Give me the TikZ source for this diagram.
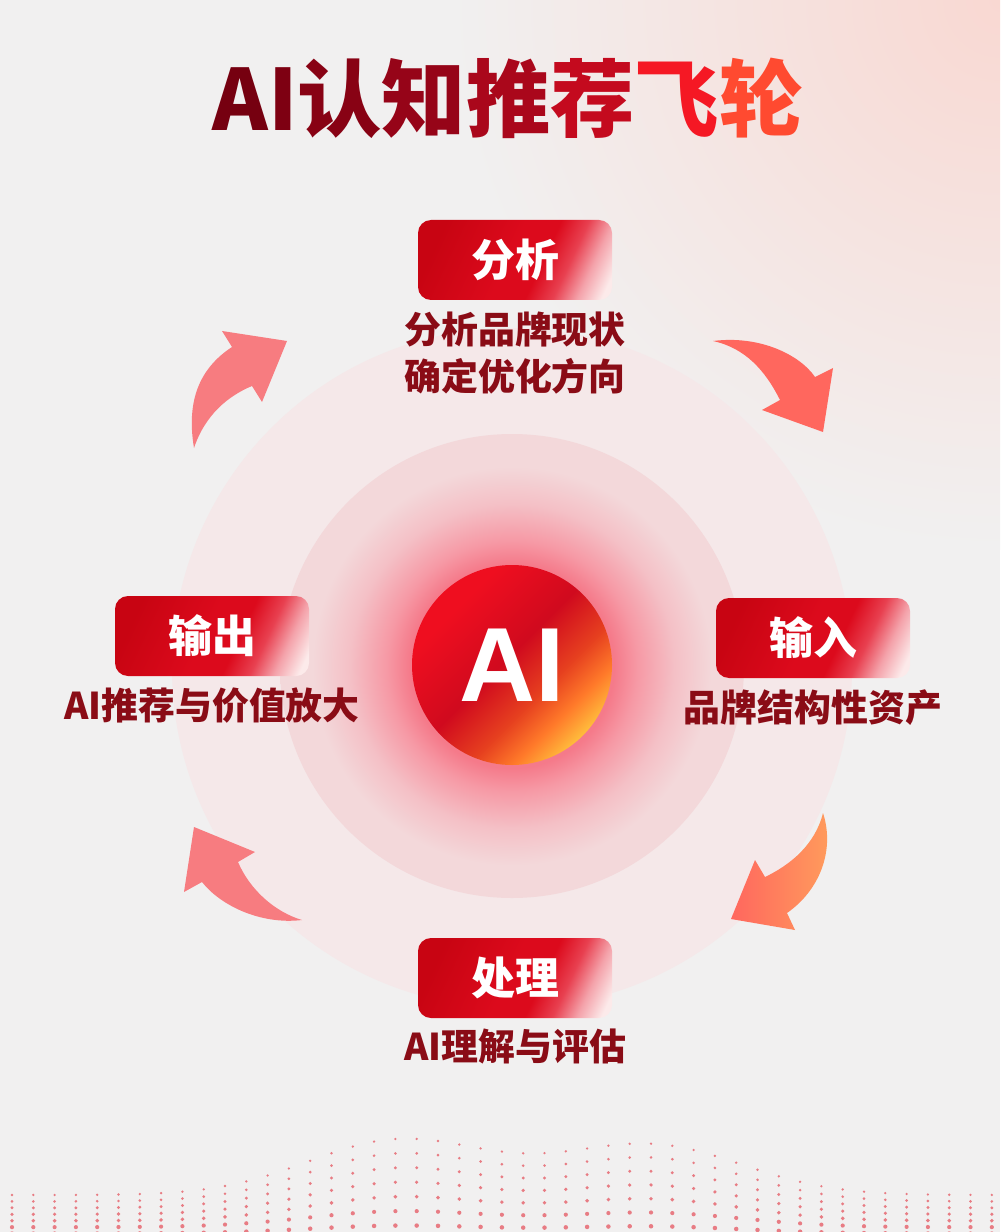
\documentclass[tikz,border=0pt]{standalone}
\usepackage{fontspec}
\setmainfont{Noto Sans CJK SC}
\newfontfamily\heavy{Noto Sans CJK SC Black}
\newfontfamily\latinbold{Liberation Sans}

\definecolor{bggray}{HTML}{F1F0F0}
\definecolor{bgpink}{HTML}{F9D8D2}
\definecolor{ringout}{HTML}{F5E8E9}
\definecolor{ringin}{HTML}{F3D8DA}
\definecolor{glowred}{HTML}{F57A8A}
\definecolor{glowmid}{HTML}{F699A5}
\definecolor{glowsoft}{HTML}{F4C0C6}
\definecolor{boxred}{HTML}{C80412}
\definecolor{boxredb}{HTML}{DC0A1C}
\definecolor{boxwarm}{HTML}{E84050}
\definecolor{boxmid}{HTML}{F4A2AA}
\definecolor{boxwhite}{HTML}{FCEAEA}
\definecolor{textred}{HTML}{8A0C16}
\definecolor{arrowpink}{HTML}{F77C80}
\definecolor{arrowred}{HTML}{FF675E}
\definecolor{arroworange}{HTML}{FF9E5C}
\definecolor{dotred}{HTML}{E2303C}
\definecolor{hubred}{HTML}{EF0E1F}
\definecolor{hubdark}{HTML}{D00A1E}
\definecolor{hubmid}{HTML}{E6401F}
\definecolor{huborange}{HTML}{FF7A2A}
\definecolor{hubyellow}{HTML}{FFBC3C}
\definecolor{titlea}{HTML}{760010}
\definecolor{titleb}{HTML}{7E0012}
\definecolor{titlec}{HTML}{880214}
\definecolor{titled}{HTML}{960418}
\definecolor{titlee}{HTML}{AA071B}
\definecolor{titlef}{HTML}{C40A1E}
\definecolor{titleg}{HTML}{F51824}
\definecolor{titleh}{HTML}{FF4A30}

\pgfdeclarehorizontalshading{boxshade}{100bp}{color(0bp)=(boxred); color(25bp)=(boxred); color(48bp)=(boxredb); color(58bp)=(boxredb); color(66bp)=(boxwarm); color(73bp)=(boxmid); color(80bp)=(boxwhite); color(100bp)=(boxwhite)}
\pgfdeclarehorizontalshading{hubshade}{100bp}{color(0bp)=(hubred); color(30bp)=(hubred); color(48bp)=(hubdark); color(60bp)=(hubmid); color(68bp)=(huborange); color(75bp)=(hubyellow); color(100bp)=(hubyellow)}
\pgfdeclareradialshading{hubglow}{\pgfpoint{0bp}{0bp}}{color(0bp)=(glowred); color(11bp)=(glowred); color(13.5bp)=(glowmid); color(17.5bp)=(glowsoft); color(21.5bp)=(ringin); color(25bp)=(ringin); color(50bp)=(ringin)}

\tikzset{
  stagebox/.style={shade, shading=boxshade, shading angle=-25, rounded corners=1.3mm,
    minimum width=19.4mm, minimum height=8mm, text=white,
    font=\heavy\fontsize{12.5}{15}\selectfont},
  stagenote/.style={text=textred, align=center,
    font=\bfseries\fontsize{10.5}{13.4}\selectfont},
  flowarrow/.style={fill=arrowpink}
}

\begin{document}
\begin{tikzpicture}[x=0.1mm, y=-0.1mm]
    \useasboundingbox (0, 0) rectangle (1000, 1232);
    \fill [bggray] (0, 0) rectangle (1000, 1232);
    \begin{scope}
      \clip (0, 0) rectangle (1000, 1232);
      \shade [inner color=bgpink, outer color=bggray] (1000, 0) circle (55mm);
    \end{scope}

    % dotted wave at the bottom
    \foreach \i in {0,...,46}
    {
      \foreach \r in {1,...,7}
      {
        \pgfmathsetmacro{\xx}{12+\i*21.3}
        \pgfmathsetmacro{\ridge}{1195-55*exp(-((\xx-400)/130)^2)-50*exp(-((\xx-650)/130)^2)}
        \pgfmathsetmacro{\yy}{1240-(1240-\ridge)*\r/7}
        \pgfmathsetmacro{\dotr}{0.13+0.016*(7-\r)}
        \fill [dotred, opacity=0.6] (\xx, \yy) circle (\dotr mm);
      }
    }

    % title
    \node [font=\heavy\fontsize{24}{29}\selectfont] (title) at (508, 98)
      {\textcolor{titlea}{A}\textcolor{titleb}{I}\textcolor{titlec}{认}\textcolor{titled}{知}\textcolor{titlee}{推}\textcolor{titlef}{荐}\textcolor{titleg}{飞}\textcolor{titleh}{轮}};

    % rings and hub
    \fill [ringout] (512, 668) circle (34mm);
    \shade [shading=hubglow] (512, 666) circle (23.2mm);
    \node [circle, minimum size=20mm, shade, shading=hubshade, shading angle=-45,
      text=white, font=\latinbold\bfseries\fontsize{30}{30}\selectfont] (hub) at (512, 665) {AI};

    % stages
    \node [stagebox] (analyse) at (515, 260) {分析};
    \node [stagenote] (analysenote) at (515, 353) {分析品牌现状\\确定优化方向};
    \node [stagebox] (input) at (813, 638) {输入};
    \node [stagenote] (inputnote) at (813, 708) {品牌结构性资产};
    \node [stagebox] (process) at (515, 978) {处理};
    \node [stagenote] (processnote) at (515, 1047) {AI理解与评估};
    \node [stagebox] (output) at (212, 636) {输出};
    \node [stagenote] (outputnote) at (212, 706) {AI推荐与价值放大};

    % flywheel arrows
    \fill [flowarrow] (194, 448) .. controls (186, 400) and (200, 368) .. (232, 347)
      -- (222, 331) -- (287, 341) -- (262, 402) -- (252, 386)
      .. controls (228, 396) and (205, 415) .. cycle;
    \fill [flowarrow, fill=arrowred] (713, 341) .. controls (760, 335) and (800, 355) .. (815, 377)
      -- (833, 368) -- (823, 432) -- (762, 410) -- (780, 400)
      .. controls (765, 370) and (745, 348) .. cycle;
    \shade [left color=arrowred, right color=arroworange] (823, 813) .. controls (835, 850) and (820, 890) .. (787, 913)
      -- (795, 930) -- (731, 919) -- (755, 860) -- (765, 877)
      .. controls (790, 865) and (815, 845) .. cycle;
    \fill [flowarrow] (302, 920) .. controls (260, 925) and (220, 905) .. (202, 882)
      -- (184, 892) -- (194, 827) -- (255, 852) -- (238, 862)
      .. controls (250, 890) and (275, 912) .. cycle;

  \end{tikzpicture}
\end{document}
